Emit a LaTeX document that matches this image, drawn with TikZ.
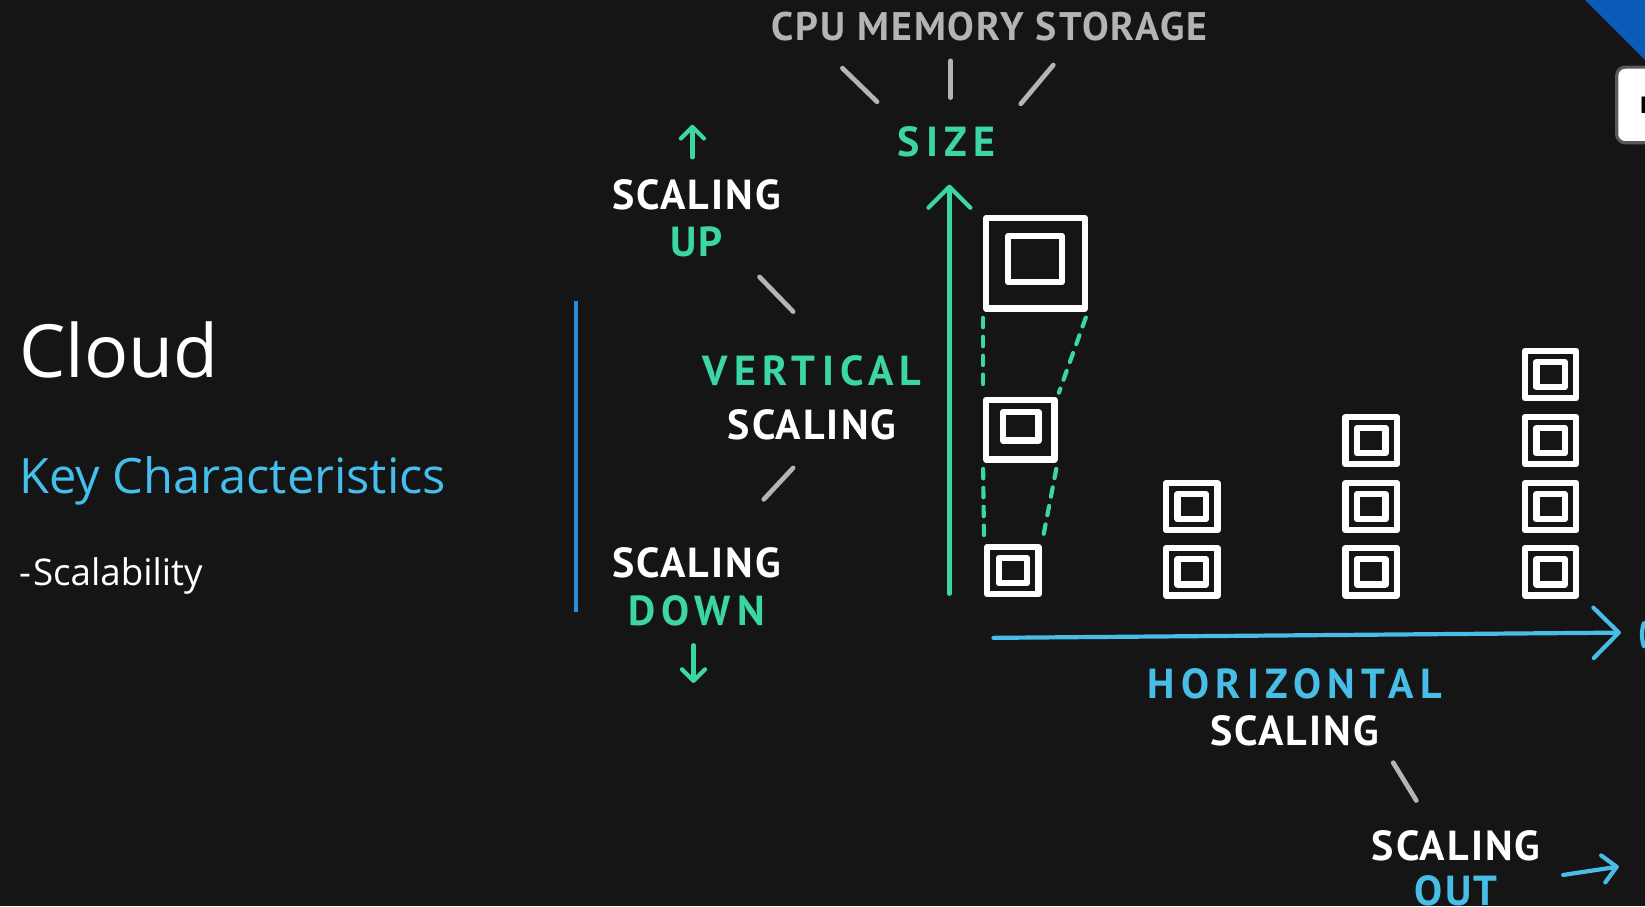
\documentclass[tikz,border=0pt]{standalone}
\usepackage{fontspec}
\setmainfont{Open Sans}
\newfontfamily\handfont[LetterSpace=5]{PT Sans}
\newfontfamily\handwide[LetterSpace=15]{PT Sans}
\usetikzlibrary{arrows.meta,positioning}
\definecolor{bg}{HTML}{151515}
\definecolor{mint}{HTML}{3CD6A6}
\definecolor{sky}{HTML}{48BDE6}
\definecolor{chalk}{HTML}{B4B4B4}
\definecolor{slidecyan}{HTML}{46BEEB}
\definecolor{slideblue}{HTML}{2A8EE0}
\definecolor{cornerblue}{HTML}{0B5CB8}
\tikzset{every node/.append style={inner sep=0pt}}
\tikzset{
  hand/.style={font=\handfont\bfseries\fontsize{40}{42}\selectfont},
  handwide/.style={font=\handwide\bfseries\fontsize{40}{42}\selectfont},
  tick/.style={chalk, line width=4.5pt, line cap=round},
  vmouter/.style={draw=white, line width=6pt, line join=round},
  vminner/.style={draw=white, line width=6pt, line join=round},
  link/.style={mint, line width=4pt, dash pattern=on 9pt off 9pt, line cap=round,
    shorten <=6pt, shorten >=4pt},
  barb/.style={line width=4pt, line cap=round,
    -{Straight Barb[length=#1, width=2*#1, line cap=round, round]}},
}
% one small server: outer and inner square
\newcommand\vmbox[3]{%
  \node[vmouter, minimum width=49pt, minimum height=45pt] (#1) at (#2,#3) {};
  \node[vminner, minimum width=27pt, minimum height=24pt] at (#1) {};}

\begin{document}
\begin{tikzpicture}[x=1pt,y=-1pt]
  \fill[bg] (0,0) rectangle (1568,864);
  \clip (0,0) rectangle (1568,864);

  % slide frame
  \fill[cornerblue] (1511,0) -- (1568,0) -- (1568,57) -- cycle;
  \draw[fill=white, draw=black!65, line width=3pt, rounded corners=8pt] (1541,64) rectangle (1620,136);
  \node[font=\fontsize{22}{24}\selectfont\bfseries] (keyF) at (1569,100) {F};

  \node[anchor=base west, white, font=\fontsize{70}{72}\selectfont] (cloud) at (18,360) {Cloud};
  \node[anchor=base west, slidecyan, font=\fontsize{46.5}{48}\selectfont] (keys) at (18,470) {Key Characteristics};
  \node[anchor=base west, white, font=\fontsize{35}{37}\selectfont] (scal) at (18,558) {-\kern2pt Scalability};
  \draw[slideblue, line width=4pt] (549,287) -- (549,583);

  % vertical scaling
  \node[hand, chalk, font=\handfont\bfseries\fontsize{38}{40}\selectfont] (cpu) at (943,25) {CPU MEMORY STORAGE};
  \node[handwide, mint] (size) at (902,135) {SIZE};
  \draw[tick] (803,65) -- (836,97);
  \draw[tick] (906,58) -- (906,93);
  \draw[tick] (1004,62) -- (973,99);

  \node[hand, white] (upscal) at (664,186) {SCALING};
  \node[hand, mint, below=15pt of upscal] (up) {UP};
  \coordinate (uptail) at (660,150);
  \coordinate (uptip) at (660,119);
  \draw[mint, barb=11pt] (uptail) -- (uptip);
  \draw[tick] (724,264) -- (756,297);

  \node[handwide, mint] (vert) at (774,353) {VERTICAL};
  \node[hand, white, below=22pt of vert] (vertscal) {SCALING};
  \draw[tick] (756,446) -- (728,476);

  \node[hand, white] (downscal) at (664,536) {SCALING};
  \node[handwide, mint, below=17pt of downscal] (down) {DOWN};
  \coordinate (downtail) at (661,615);
  \coordinate (downtip) at (661,651);
  \draw[mint, barb=11pt] (downtail) -- (downtip);

  \coordinate (sizebase) at (905,566);
  \coordinate (sizetop) at (905,176);
  \draw[mint, barb=20pt] (sizebase) -- (sizetop);

  \node[vmouter, minimum width=94pt, minimum height=86pt] (big) at (987,251) {};
  \node[vminner, minimum width=51pt, minimum height=44pt] at (986.5,247) {};
  \node[vmouter, minimum width=65pt, minimum height=57pt] (mid) at (972.5,409.5) {};
  \node[vminner, minimum width=34pt, minimum height=27pt] at (973,406.5) {};
  \vmbox{c1a}{965.5}{544}

  \draw[link] (big.south west) -- (mid.north west);
  \draw[link] (big.south east) -- (mid.north east);
  \draw[link] (mid.south west) -- (c1a.north west);
  \draw[link] (mid.south east) -- (c1a.north east);

  % horizontal scaling
  \vmbox{c2a}{1136}{545}
  \vmbox{c2b}{1136}{483}
  \vmbox{c3a}{1307}{545}
  \vmbox{c3b}{1307}{483}
  \vmbox{c3c}{1307}{420}
  \vmbox{c4a}{1478}{545}
  \vmbox{c4b}{1478}{483}
  \vmbox{c4c}{1478}{420}
  \vmbox{c4d}{1478}{357}

  \coordinate (hbase) at (947,608);
  \coordinate (htip) at (1545,603);
  \draw[sky, barb=24pt] (hbase) -- (htip);
  \draw[sky, line width=4pt, line cap=round] (1567,594) arc[start angle=160, end angle=200, radius=32pt];

  \node[handwide, sky] (horiz) at (1234,652) {HORIZONTAL};
  \node[hand, white, below=15pt of horiz] (horizscal) {SCALING};
  \draw[tick] (1328,727) -- (1350,763);
  \node[hand, white] (outscal) at (1388,806) {SCALING};
  \node[hand, sky, below=14pt of outscal] (out) {OUT};
  \coordinate (outtail) at (1490,834);
  \coordinate (outtip) at (1543,826);
  \draw[sky, barb=13pt] (outtail) -- (outtip);
\end{tikzpicture}
\end{document}
